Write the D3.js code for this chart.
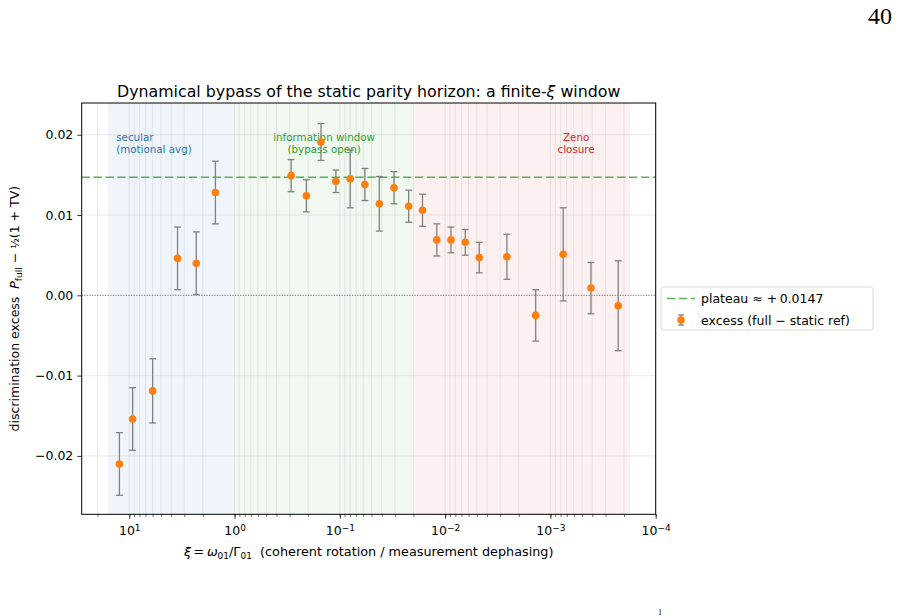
<!DOCTYPE html>
<html>
<head>
<meta charset="utf-8">
<script src="https://cdnjs.cloudflare.com/ajax/libs/d3/7.8.5/d3.min.js"></script>
<style>
  body { margin: 0; background: #fff; }
  svg { display: block; font-family: "DejaVu Sans", sans-serif; }
</style>
</head>
<body>
<div id="chart"></div>
<script>
// xi = omega01 / Gamma01 for each run, excess and its error bar
const xiValues = [12.4, 9.3, 6.0, 3.48, 2.31, 1.52, 0.29, 0.208, 0.151, 0.109, 0.0797, 0.0578, 0.0422,
  0.0306, 0.0222, 0.0164, 0.0120, 0.0088, 0.00644, 0.00474, 0.00259, 0.00138, 0.000756, 0.000412, 0.000227];
const excessValues = [-0.0210, -0.0154, -0.0119, 0.0046, 0.0040, 0.0128, 0.0149, 0.0124, 0.0191, 0.0142,
  0.0145, 0.0138, 0.0114, 0.0134, 0.0111, 0.0106, 0.0069, 0.0069, 0.0066, 0.0047, 0.0048, -0.0025,
  0.0051, 0.0009, -0.0013];
const errValues = [0.0039, 0.0039, 0.0040, 0.0039, 0.0039, 0.0039, 0.0020, 0.0020, 0.0023, 0.0014,
  0.0036, 0.0020, 0.0034, 0.0020, 0.0020, 0.0020, 0.0020, 0.0016, 0.0016, 0.0019, 0.0028, 0.0032,
  0.0058, 0.0032, 0.0056];
const plateau = 0.0147;

// shaded regimes
const regionLo = [1, 0.02, 1.75e-4];
const regionHi = [16, 1, 0.02];
const regionColors = ["#1f77b4", "#2ca02c", "#d62728"];
const regionLabels = [["secular", "(motional avg)"], ["information window", "(bypass open)"], ["Zeno", "closure"]];
const regionLabelXi = [13.3, 0.141, 5.7e-4];

const yTicks = [-0.02, -0.01, 0.00, 0.01, 0.02];
const xMajor = [10, 1, 0.1, 0.01, 0.001, 0.0001];

const W = 898, H = 616;
const margin = { left: 81.7, right: W - 655.7, top: 103, bottom: H - 514.3 };

const svg = d3.select("#chart").append("svg")
  .attr("width", W).attr("height", H);

const x = d3.scaleLog().domain([28.3, 1e-4]).range([margin.left, W - margin.right]);
const y = d3.scaleLinear().domain([-0.02727, 0.02395]).range([H - margin.bottom, margin.top]);

const plot = svg.append("g");

// regions
regionLo.forEach((lo, i) => {
  plot.append("rect")
    .attr("x", x(regionHi[i]))
    .attr("y", margin.top)
    .attr("width", x(lo) - x(regionHi[i]))
    .attr("height", y.range()[0] - margin.top)
    .attr("fill", regionColors[i])
    .attr("fill-opacity", 0.07);
});

// grid (major + minor vertical, major horizontal)
const allX = x.ticks();
plot.selectAll(".vgrid").data(allX).enter().append("line")
  .attr("x1", d => x(d)).attr("x2", d => x(d))
  .attr("y1", margin.top).attr("y2", y.range()[0])
  .attr("stroke", "#b0b0b0").attr("stroke-opacity", 0.3).attr("stroke-width", 0.8);
plot.selectAll(".hgrid").data(yTicks).enter().append("line")
  .attr("x1", margin.left).attr("x2", W - margin.right)
  .attr("y1", d => y(d)).attr("y2", d => y(d))
  .attr("stroke", "#b0b0b0").attr("stroke-opacity", 0.3).attr("stroke-width", 0.8);

// zero line
plot.append("line")
  .attr("x1", margin.left).attr("x2", W - margin.right)
  .attr("y1", y(0)).attr("y2", y(0))
  .attr("stroke", "#555").attr("stroke-width", 0.8).attr("stroke-dasharray", "1,1.6");

// plateau
plot.append("line")
  .attr("x1", margin.left).attr("x2", W - margin.right)
  .attr("y1", y(plateau)).attr("y2", y(plateau))
  .attr("stroke", "#2ca02c").attr("stroke-opacity", 0.8)
  .attr("stroke-width", 1.5).attr("stroke-dasharray", "8.3,3.6");

// region labels
regionLabels.forEach((lines, i) => {
  const t = plot.append("text")
    .attr("x", x(regionLabelXi[i]))
    .attr("y", y(0.0192))
    .attr("fill", regionColors[i])
    .attr("font-size", 10.3)
    .attr("text-anchor", i === 0 ? "start" : "middle");
  lines.forEach((s, j) => {
    t.append("tspan").attr("x", x(regionLabelXi[i])).attr("dy", j === 0 ? 0 : 12).text(s);
  });
});

// error bars + markers
const pts = xiValues.map((v, i) => ({ xi: v, e: excessValues[i], err: errValues[i] }));
const cap = 3.4;
const eb = plot.append("g").attr("stroke", "#808080").attr("stroke-width", 1.3);
pts.forEach(d => {
  const cx = x(d.xi);
  eb.append("line").attr("x1", cx).attr("x2", cx).attr("y1", y(d.e - d.err)).attr("y2", y(d.e + d.err));
  eb.append("line").attr("x1", cx - cap).attr("x2", cx + cap).attr("y1", y(d.e - d.err)).attr("y2", y(d.e - d.err));
  eb.append("line").attr("x1", cx - cap).attr("x2", cx + cap).attr("y1", y(d.e + d.err)).attr("y2", y(d.e + d.err));
});
plot.selectAll(".pt").data(pts).enter().append("circle")
  .attr("cx", d => x(d.xi)).attr("cy", d => y(d.e)).attr("r", 3.8)
  .attr("fill", "#ff7f0e");

// axes
const xAxis = svg.append("g").attr("transform", `translate(0,${y.range()[0]})`)
  .call(d3.axisBottom(x).tickValues(allX).tickSize(2.5).tickFormat(""));
xAxis.select(".domain").remove();
xAxis.selectAll("line").attr("stroke", "#000").attr("stroke-width", 0.6);
const xAxisMajor = svg.append("g").attr("transform", `translate(0,${y.range()[0]})`)
  .call(d3.axisBottom(x).tickValues(xMajor).tickSize(4.4).tickPadding(4).tickFormat(() => ""));
xAxisMajor.select(".domain").remove();
xAxisMajor.selectAll("line").attr("stroke", "#000").attr("stroke-width", 0.8);
xAxisMajor.selectAll(".tick text").each(function (d) {
  const p = Math.round(Math.log10(d));
  const t = d3.select(this).attr("font-size", 12.5).attr("font-family", "DejaVu Sans").attr("fill", "#000")
    .attr("dy", "0.95em");
  t.append("tspan").text("10");
  t.append("tspan").attr("dy", "-0.45em").attr("font-size", 9).text(String(p).replace("-", "\u2212"));
});

const yAxis = svg.append("g").attr("transform", `translate(${margin.left},0)`)
  .call(d3.axisLeft(y).tickValues(yTicks).tickSize(4.4).tickPadding(4)
    .tickFormat(d => d3.format(".2f")(d).replace("-", "\u2212")));
yAxis.select(".domain").remove();
yAxis.selectAll("line").attr("stroke", "#000").attr("stroke-width", 0.8);
yAxis.selectAll("text").attr("font-size", 12.5).attr("font-family", "DejaVu Sans").attr("fill", "#000");

// frame
svg.append("rect")
  .attr("x", margin.left).attr("y", margin.top)
  .attr("width", W - margin.right - margin.left).attr("height", y.range()[0] - margin.top)
  .attr("fill", "none").attr("stroke", "#000").attr("stroke-width", 1);

// title
svg.append("text").attr("x", (margin.left + W - margin.right) / 2).attr("y", 97)
  .attr("text-anchor", "middle").attr("font-size", 15.8)
  .html('Dynamical bypass of the static parity horizon: a finite-<tspan font-style="italic">ξ</tspan> window');

// x label
const xl = svg.append("text").attr("x", (margin.left + W - margin.right) / 2).attr("y", 556)
  .attr("text-anchor", "middle").attr("font-size", 12.8);
xl.append("tspan").attr("font-style", "italic").text("ξ");
xl.append("tspan").text("\u2009=\u2009");
xl.append("tspan").attr("font-style", "italic").text("ω");
xl.append("tspan").attr("font-size", 9).attr("dy", 3).text("01");
xl.append("tspan").attr("dy", -3).text("/Γ");
xl.append("tspan").attr("font-size", 9).attr("dy", 3).text("01");
xl.append("tspan").attr("dy", -3).text("\u00A0\u00A0(coherent rotation / measurement dephasing)");

// y label
const yl = svg.append("text")
  .attr("transform", `translate(19,${(margin.top + y.range()[0]) / 2}) rotate(-90)`)
  .attr("text-anchor", "middle").attr("font-size", 12.5);
yl.append("tspan").text("discrimination excess\u00A0\u00A0");
yl.append("tspan").attr("font-style", "italic").text("P");
yl.append("tspan").attr("font-size", 9).attr("dy", 3).text("full");
yl.append("tspan").attr("dy", -3).text(" \u2212 ");
yl.append("tspan").attr("font-size", 11).text("½");
yl.append("tspan").text("(1 + TV)");

// legend
const lg = svg.append("g").attr("transform", "translate(661,287)");
lg.append("rect").attr("width", 212).attr("height", 43).attr("rx", 2.5)
  .attr("fill", "#fff").attr("fill-opacity", 0.8).attr("stroke", "#d0d0d0").attr("stroke-width", 0.8);
lg.append("line").attr("x1", 6).attr("x2", 34).attr("y1", 11.5).attr("y2", 11.5)
  .attr("stroke", "#2ca02c").attr("stroke-opacity", 0.8).attr("stroke-width", 1.5).attr("stroke-dasharray", "8.3,3.6");
lg.append("text").attr("x", 40).attr("y", 16).attr("font-size", 12.5).text("plateau \u2248 +\u20090.0147");
const lgEb = lg.append("g").attr("stroke", "#808080").attr("stroke-width", 1.3);
lgEb.append("line").attr("x1", 20).attr("x2", 20).attr("y1", 28).attr("y2", 38);
lgEb.append("line").attr("x1", 17).attr("x2", 23).attr("y1", 28).attr("y2", 28);
lgEb.append("line").attr("x1", 17).attr("x2", 23).attr("y1", 38).attr("y2", 38);
lg.append("circle").attr("cx", 20).attr("cy", 33).attr("r", 3.8).attr("fill", "#ff7f0e");
lg.append("text").attr("x", 40).attr("y", 37.5).attr("font-size", 12.5).text("excess (full \u2212 static ref)");

// page number and footer mark
svg.append("text").attr("x", 892).attr("y", 24).attr("text-anchor", "end")
  .attr("font-family", "Liberation Serif, serif").attr("font-size", 24).text("40");
svg.append("text").attr("x", 658).attr("y", 615)
  .attr("font-family", "Liberation Serif, serif").attr("font-size", 8).text("1");
</script>
</body>
</html>
